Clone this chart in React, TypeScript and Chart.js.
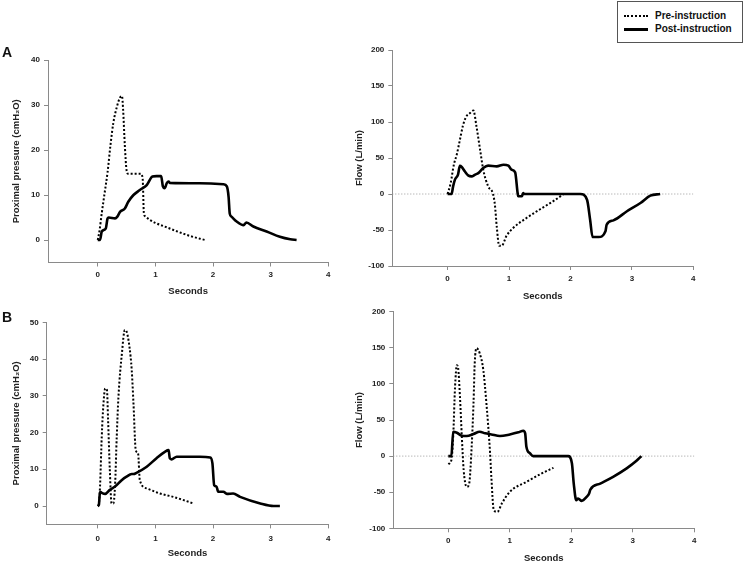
import React, { useEffect, useRef } from 'react';
import { Chart, registerables } from 'chart.js';

Chart.register(...registerables);

const FONT = '"Liberation Sans", Arial, sans-serif';

// ---------- Data ----------
const xTicks = [0, 1, 2, 3, 4];
const pressureTicksA = [0, 10, 20, 30, 40];
const pressureTicksB = [0, 10, 20, 30, 40, 50];
const flowTicks = [-100, -50, 0, 50, 100, 150, 200];

// Panel A – proximal pressure
const aPresPreT = [0, 0.03, 0.07, 0.12, 0.17, 0.22, 0.27, 0.33, 0.38, 0.42, 0.44, 0.47, 0.50, 0.53, 0.75, 0.78, 0.80, 0.82, 0.90, 1.00, 1.20, 1.40, 1.60, 1.86];
const aPresPreV = [0, 2, 6, 10.5, 15, 21, 26, 29.5, 31.5, 32, 29, 21, 15.5, 14.7, 14.7, 13.5, 6, 5.3, 4.5, 3.8, 2.8, 1.8, 0.9, 0];
const aPresPostT = [0, 0.04, 0.07, 0.14, 0.17, 0.19, 0.30, 0.34, 0.39, 0.47, 0.53, 0.62, 0.73, 0.85, 0.95, 1.02, 1.10, 1.13, 1.16, 1.20, 1.23, 1.25, 1.77, 2.18, 2.24, 2.27, 2.29, 2.32, 2.41, 2.53, 2.58, 2.70, 2.93, 3.16, 3.34, 3.45];
const aPresPostV = [0, 0, 1.9, 2.6, 4.8, 5, 4.8, 5.2, 6.3, 7, 8.5, 10, 11.1, 12.2, 14.1, 14.2, 14.2, 11.9, 11.5, 12.7, 13, 12.7, 12.6, 12.4, 11.9, 9.6, 5.9, 5.2, 4.1, 3.3, 3.9, 3.0, 1.9, 0.7, 0.15, 0];

// Panel A – flow
const aFlowPreT = [0, 0.05, 0.10, 0.15, 0.20, 0.25, 0.30, 0.36, 0.42, 0.47, 0.53, 0.58, 0.66, 0.74, 0.77, 0.80, 0.84, 0.88, 0.96, 1.07, 1.29, 1.50, 1.72, 1.89];
const aFlowPreV = [0, 15, 40, 55, 75, 95, 107, 112, 116, 94, 61, 34, 10.6, 0, -15, -45, -72, -72, -58, -47, -33, -21.5, -10, 0];
const aFlowPostT = [0, 0.065, 0.09, 0.12, 0.17, 0.20, 0.23, 0.28, 0.34, 0.39, 0.45, 0.50, 0.58, 0.66, 0.80, 0.91, 0.99, 1.04, 1.10, 1.14, 1.15, 1.21, 1.23, 1.25, 2.16, 2.27, 2.32, 2.36, 2.46, 2.57, 2.59, 2.70, 2.92, 3.14, 3.30, 3.46];
const aFlowPostV = [0, 0, 10.6, 20, 27, 39, 37.5, 31.5, 25.5, 24.5, 27, 29, 36, 39.4, 38.4, 40.7, 39.4, 33.8, 30, 1.4, -3.2, -3.2, 1.4, 0, 0, -8, -35.6, -59.7, -59.7, -51.8, -42.6, -36.6, -24, -12.5, -2.3, 0];

// Panel B – proximal pressure
const bPresPreT = [0, 0.02, 0.04, 0.07, 0.10, 0.13, 0.16, 0.18, 0.21, 0.24, 0.27, 0.30, 0.33, 0.36, 0.42, 0.47, 0.50, 0.55, 0.59, 0.62, 0.66, 0.70, 0.73, 0.85, 1.08, 1.31, 1.49, 1.66];
const bPresPreV = [0, 0.7, 5.3, 18.9, 27.9, 32, 31.6, 23.4, 9.8, 0.7, 0.7, 5.3, 18.9, 29.8, 41.6, 47.9, 47.5, 43.4, 37, 28, 15.2, 14.3, 7.1, 4.8, 3.4, 2.5, 1.6, 0.7];
const bPresPostT = [0, 0.02, 0.04, 0.07, 0.13, 0.21, 0.30, 0.42, 0.50, 0.59, 0.62, 0.68, 0.85, 1.02, 1.17, 1.23, 1.25, 1.28, 1.37, 1.77, 1.95, 1.99, 2.02, 2.06, 2.09, 2.18, 2.24, 2.35, 2.47, 2.82, 3.05, 3.16];
const bPresPostV = [0, 0.3, 3.9, 3.6, 3.3, 4.4, 5.3, 7.1, 8, 8.7, 8.7, 9.1, 10.7, 13, 14.8, 15.2, 13, 12.7, 13.4, 13.4, 13.2, 11.6, 5.7, 5.3, 3.9, 3.9, 3.3, 3.4, 2.5, 0.7, 0, 0];

// Panel B – flow
const bFlowPreT = [0, 0.05, 0.08, 0.11, 0.14, 0.16, 0.19, 0.22, 0.25, 0.30, 0.34, 0.38, 0.41, 0.43, 0.46, 0.51, 0.57, 0.62, 0.68, 0.70, 0.74, 0.80, 0.87, 1.00, 1.27, 1.52, 1.71];
const bFlowPreV = [-11, -5.6, 27, 96, 126, 122, 82, 27, -19.4, -42.6, -38, 13, 73, 128.7, 149.5, 142.6, 119, 73, 3.7, -28.7, -75, -77.3, -65.7, -49.5, -35.6, -24, -16.2];
const bFlowPostT = [0, 0.05, 0.08, 0.14, 0.22, 0.30, 0.41, 0.51, 0.60, 0.70, 0.84, 1.00, 1.14, 1.22, 1.25, 1.27, 1.33, 1.38, 1.95, 2.01, 2.04, 2.08, 2.11, 2.17, 2.25, 2.29, 2.31, 2.47, 2.68, 2.90, 3.06, 3.14];
const bFlowPostV = [0, 0, 33.8, 32.4, 28.2, 27.8, 30.6, 33.8, 31.5, 30, 27.8, 30, 32.9, 35.2, 31.5, 13, 3.7, 0, 0, -10, -38, -61, -58.8, -62, -56.5, -51.8, -46.3, -38, -28.7, -17, -6.5, 0];

const legendLabels = ['Pre-instruction', 'Post-instruction'];
const pressureTitle = 'Proximal pressure (cmH\u2082O)';
const flowTitle = 'Flow (L/min)';
const xTitle = 'Seconds';

// ---------- helpers ----------
const pts = (t: number[], v: number[]) => t.map((x, i) => ({ x, y: v[i] }));

type Spec = {
  left: number; top: number; width: number; height: number;
  padTop: number; padRight: number;
  yW: number; xH: number;
  xMin: number; yMin: number; yMax: number; yTicks: number[];
  yTitle: string; yTitlePad: number; xTitlePad: number; xTickPad: number;
  pre: { x: number; y: number }[]; post: { x: number; y: number }[];
  zeroLine: boolean;
};

function Panel({ spec }: { spec: Spec }) {
  const ref = useRef<HTMLCanvasElement | null>(null);
  useEffect(() => {
    if (!ref.current) return;
    const axisColor = '#8a8a8a';
    const datasets: any[] = [
      {
        label: legendLabels[1], data: spec.post, borderColor: '#000', borderWidth: 2.6,
        pointRadius: 0, tension: 0, cubicInterpolationMode: 'monotone', order: 0,
      },
      {
        label: legendLabels[0], data: spec.pre, borderColor: '#000', borderWidth: 2,
        borderDash: [2, 2], pointRadius: 0, cubicInterpolationMode: 'monotone', order: 1,
      },
    ];
    if (spec.zeroLine) {
      datasets.push({
        label: 'zero', data: [{ x: spec.xMin, y: 0 }, { x: 4, y: 0 }], borderColor: '#9a9a9a',
        borderWidth: 1, borderDash: [1, 2], pointRadius: 0, order: 5,
      });
    }
    const chart = new Chart(ref.current, {
      type: 'line',
      data: { datasets },
      options: {
        responsive: false,
        animation: false,
        events: [],
        layout: { padding: { top: spec.padTop, right: spec.padRight, left: 0, bottom: 0 } },
        plugins: { legend: { display: false }, tooltip: { enabled: false } },
        scales: {
          x: {
            type: 'linear', min: spec.xMin, max: 4,
            afterBuildTicks: (s: any) => { s.ticks = xTicks.map((v) => ({ value: v })); },
            afterFit: (s: any) => { s.height = spec.xH; },
            grid: { drawOnChartArea: false, drawTicks: true, tickLength: 4, color: axisColor },
            border: { color: axisColor, width: 1 },
            ticks: { font: { family: FONT, size: 8, weight: 'bold' }, color: '#222', padding: spec.xTickPad, maxRotation: 0 },
            title: { display: true, text: xTitle, color: '#222', font: { family: FONT, size: 9.5, weight: 'bold' }, padding: { top: 0, bottom: spec.xTitlePad } },
          },
          y: {
            type: 'linear', min: spec.yMin, max: spec.yMax,
            afterBuildTicks: (s: any) => { s.ticks = spec.yTicks.map((v) => ({ value: v })); },
            afterFit: (s: any) => { s.width = spec.yW; },
            grid: { drawOnChartArea: false, drawTicks: true, tickLength: 4, color: axisColor },
            border: { color: axisColor, width: 1 },
            ticks: { font: { family: FONT, size: 8, weight: 'bold' }, color: '#222', padding: 4 },
            title: { display: true, text: spec.yTitle, color: '#222', font: { family: FONT, size: 9.5, weight: 'bold' }, padding: { top: spec.yTitlePad, bottom: 0 } },
          },
        },
      } as any,
    });
    return () => chart.destroy();
  }, [spec]);
  return (
    <canvas
      ref={ref}
      width={spec.width}
      height={spec.height}
      style={{ position: 'absolute', left: spec.left, top: spec.top, width: spec.width, height: spec.height }}
    />
  );
}

const specs: Spec[] = [
  {
    left: 0, top: 50, width: 340, height: 255, padTop: 10, padRight: 11.7, yW: 48, xH: 42.5,
    xMin: -0.863, yMin: -5, yMax: 40, yTicks: pressureTicksA, yTitle: pressureTitle, yTitlePad: 10.5,
    xTitlePad: 7.5, xTickPad: 3, pre: pts(aPresPreT, aPresPreV), post: pts(aPresPostT, aPresPostV), zeroLine: false,
  },
  {
    left: 345, top: 40, width: 360, height: 270, padTop: 10, padRight: 11.7, yW: 47.3, xH: 44,
    xMin: -0.9, yMin: -100, yMax: 200, yTicks: flowTicks, yTitle: flowTitle, yTitlePad: 8.5,
    xTitlePad: 8, xTickPad: 3.5, pre: pts(aFlowPreT, aFlowPreV), post: pts(aFlowPostT, aFlowPostV), zeroLine: true,
  },
  {
    left: 0, top: 312, width: 340, height: 254, padTop: 10.3, padRight: 11.7, yW: 46.7, xH: 41.6,
    xMin: -0.885, yMin: -5, yMax: 50, yTicks: pressureTicksB, yTitle: pressureTitle, yTitlePad: 10.5,
    xTitlePad: 6.5, xTickPad: 6, pre: pts(bPresPreT, bPresPreV), post: pts(bPresPostT, bPresPostV), zeroLine: false,
  },
  {
    left: 345, top: 300, width: 360, height: 266, padTop: 11.7, padRight: 10.7, yW: 48.3, xH: 37.7,
    xMin: -0.894, yMin: -100, yMax: 200, yTicks: flowTicks, yTitle: flowTitle, yTitlePad: 8.5,
    xTitlePad: 2, xTickPad: 3.5, pre: pts(bFlowPreT, bFlowPreV), post: pts(bFlowPostT, bFlowPostV), zeroLine: true,
  },
];

export default function App() {
  return (
    <div style={{ position: 'absolute', left: 0, top: 0, width: 745, height: 566, background: '#fff', overflow: 'hidden', fontFamily: FONT }}>
      {specs.map((s, i) => <Panel key={i} spec={s} />)}
      <div style={{ position: 'absolute', left: 2, top: 44, fontSize: 14, fontWeight: 'bold', color: '#111' }}>A</div>
      <div style={{ position: 'absolute', left: 2, top: 309, fontSize: 14, fontWeight: 'bold', color: '#111' }}>B</div>
      <div style={{ position: 'absolute', left: 617, top: 1, width: 124, height: 40, border: '1px solid #555', background: '#fff' }}>
        <div style={{ position: 'absolute', left: 6, top: 13, width: 24, borderTop: '2px dotted #000' }} />
        <div style={{ position: 'absolute', left: 37, top: 8, fontSize: 10, fontWeight: 'bold', color: '#111', whiteSpace: 'nowrap' }}>{legendLabels[0]}</div>
        <div style={{ position: 'absolute', left: 6, top: 26, width: 24, borderTop: '3px solid #000' }} />
        <div style={{ position: 'absolute', left: 37, top: 21, fontSize: 10, fontWeight: 'bold', color: '#111', whiteSpace: 'nowrap' }}>{legendLabels[1]}</div>
      </div>
    </div>
  );
}
